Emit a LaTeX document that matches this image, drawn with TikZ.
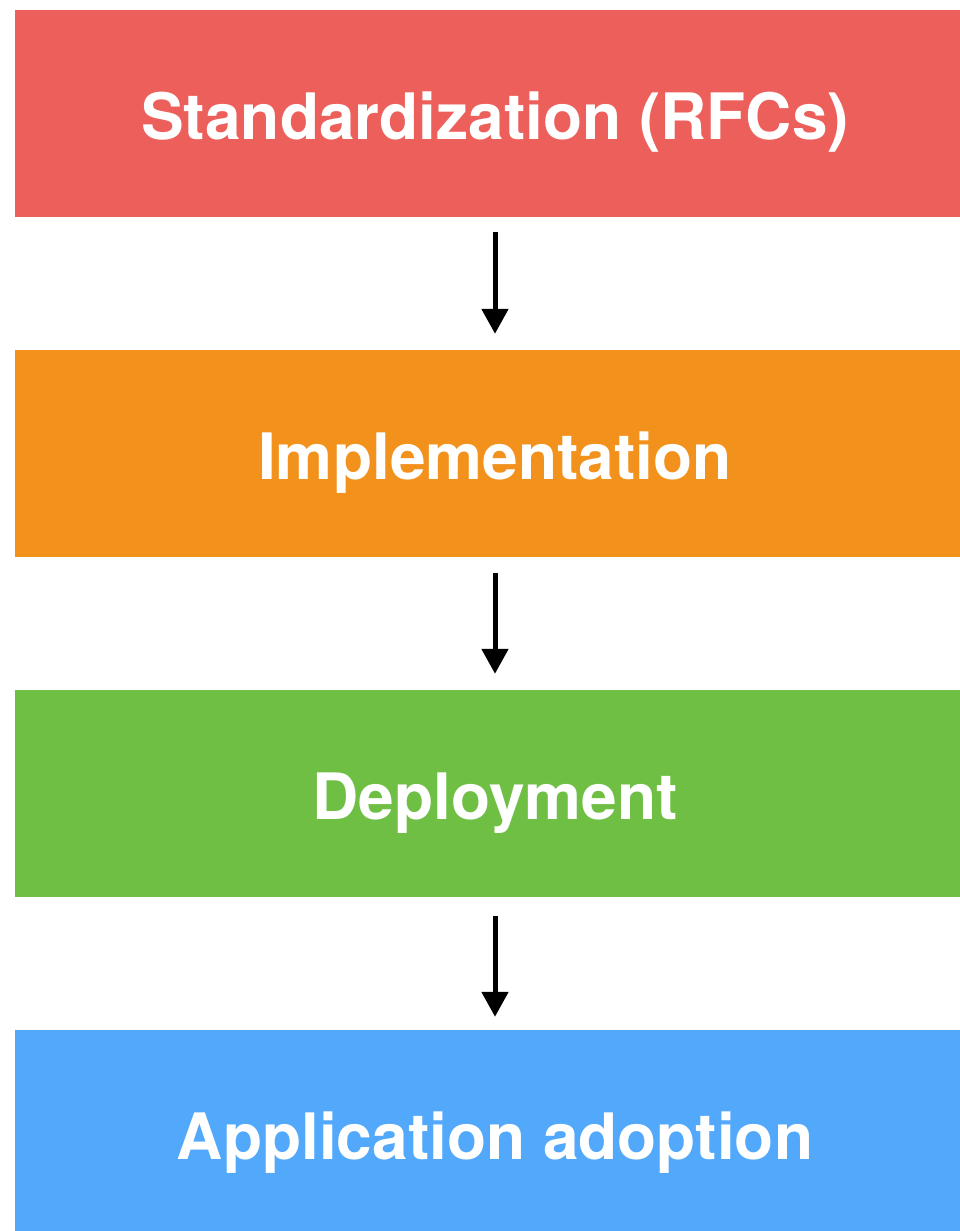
\documentclass[tikz,border=0pt]{standalone}
\usepackage{fontspec}
\setmainfont{TeX Gyre Heros}
\usetikzlibrary{arrows.meta}
\definecolor{cred}{HTML}{EC5F5A}
\definecolor{corange}{HTML}{F2911C}
\definecolor{cgreen}{HTML}{6FBF45}
\definecolor{cblue}{HTML}{52A8FA}
\tikzset{
  stagebox/.style={fill=#1, draw=none, minimum width=960pt, minimum height=207pt, inner sep=0pt,
    text height=51pt, text depth=0pt,
    text=white, font=\fontsize{64}{70}\selectfont\bfseries},
  flowarrow/.style={line width=5pt, -{Triangle[width=26pt,length=25pt]}}
}
\begin{document}
\begin{tikzpicture}[x=1pt,y=-1pt]
\useasboundingbox (0,0) rectangle (959,1231);
\node[stagebox=cred] (b1) at (495,113.5) {Standardization (RFCs)};
\node[stagebox=corange] (b2) at (495,453.5) {Implementation};
\node[stagebox=cgreen] (b3) at (495,793.5) {Deployment};
\node[stagebox=cblue] (b4) at (495,1133.5) {Application adoption};
\draw[flowarrow, shorten <=15pt, shorten >=16pt] (b1.south) -- (b2.north);
\draw[flowarrow, shorten <=16pt, shorten >=16pt] (b2.south) -- (b3.north);
\draw[flowarrow, shorten <=19pt, shorten >=13pt] (b3.south) -- (b4.north);
\end{tikzpicture}
\end{document}
